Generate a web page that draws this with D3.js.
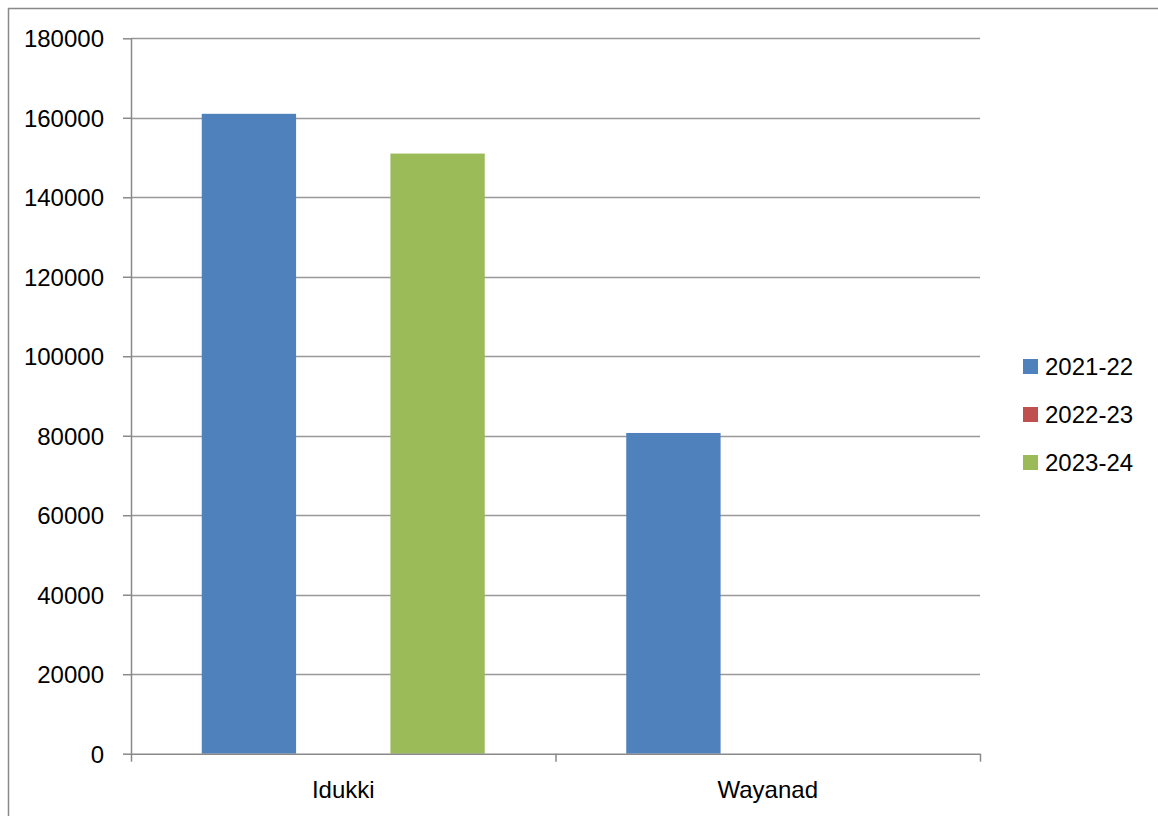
<!DOCTYPE html>
<html>
<head>
<meta charset="utf-8">
<script src="https://cdn.jsdelivr.net/npm/d3@7"></script>
<style>
html,body{margin:0;padding:0;background:#fff;}
svg{display:block;}
text{font-family:"Liberation Sans",Arial,sans-serif;fill:#000;}
</style>
</head>
<body>
<svg id="chart" width="1158" height="816"></svg>
<script>
const categories = ["Idukki", "Wayanad"];
const seriesNames = ["2021-22", "2022-23", "2023-24"];
const values2021 = [161000, 80700];
const values2022 = [0, 0];
const values2023 = [151000, 0];
const yTicks = [0, 20000, 40000, 60000, 80000, 100000, 120000, 140000, 160000, 180000];
const colors = ["#4F81BD", "#C0504D", "#9BBB59"];

const seriesValues = [values2021, values2022, values2023];
const svg = d3.select("#chart");

// outer chart border
svg.append("rect").attr("x", 8.5).attr("y", 8.5).attr("width", 1170).attr("height", 830)
  .attr("fill", "none").attr("stroke", "#898989").attr("stroke-width", 1.5);

const plot = {left: 131, right: 980, top: 38.3, bottom: 753.7};
const x = d3.scaleBand().domain(categories).range([plot.left, plot.right]).paddingInner(0).paddingOuter(0);
const y = d3.scaleLinear().domain([0, 180000]).range([plot.bottom, plot.top]);

// gridlines
svg.append("g").selectAll("line").data(yTicks.filter(d => d > 0)).join("line")
  .attr("x1", plot.left).attr("x2", plot.right)
  .attr("y1", d => Math.round(y(d)) + 0.5).attr("y2", d => Math.round(y(d)) + 0.5)
  .attr("stroke", "#999").attr("stroke-width", 1.5);

// bars
const inner = d3.scaleBand().domain(seriesNames).range([0, x.bandwidth()]).paddingOuter(0.75).paddingInner(0);
const groups = svg.append("g").selectAll("g").data(categories).join("g")
  .attr("transform", d => `translate(${x(d)},0)`);
groups.selectAll("rect").data((c, i) => seriesNames.map((s, j) => ({s, j, v: seriesValues[j][i]})))
  .join("rect")
  .attr("x", d => inner(d.s)).attr("width", inner.bandwidth())
  .attr("y", d => y(d.v)).attr("height", d => y(0) - y(d.v))
  .attr("fill", d => colors[d.j]);

// y axis
const yAxis = svg.append("g").attr("transform", `translate(${plot.left},0)`)
  .call(d3.axisLeft(y).tickValues(yTicks).tickSize(8).tickPadding(19).tickFormat(d3.format("d")));
yAxis.select(".domain").attr("stroke", "#898989").attr("stroke-width", 1.5).attr("d", `M0.5,${plot.top}V${plot.bottom}`);
yAxis.selectAll(".tick line").attr("stroke", "#898989").attr("stroke-width", 1.5);
yAxis.selectAll(".tick text").attr("font-size", 24).attr("font-family", "'Liberation Sans',Arial,sans-serif").attr("fill", "#000").attr("dy", "0.36em");

// x axis
const xAxis = svg.append("g").attr("transform", `translate(0,${plot.bottom})`)
  .call(d3.axisBottom(x).tickSize(0).tickPadding(27));
xAxis.select(".domain").attr("stroke", "#898989").attr("stroke-width", 1.5).attr("d", `M${plot.left},0.5H${plot.right}`);
xAxis.selectAll(".tick text").attr("font-size", 24).attr("font-family", "'Liberation Sans',Arial,sans-serif").attr("fill", "#000");
// category boundary tick marks
const boundaries = categories.map(c => x(c)).concat([x(categories[categories.length - 1]) + x.bandwidth()]);
xAxis.append("g").selectAll("line").data(boundaries).join("line")
  .attr("x1", d => d + 0.5).attr("x2", d => d + 0.5).attr("y1", 0).attr("y2", 8)
  .attr("stroke", "#898989").attr("stroke-width", 1.5);

// legend
const legend = svg.append("g").attr("transform", "translate(1023,366)");
const li = legend.selectAll("g").data(seriesNames).join("g")
  .attr("transform", (d, i) => `translate(0,${i * 48})`);
li.append("rect").attr("x", 0).attr("y", -7).attr("width", 15).attr("height", 15).attr("fill", (d, i) => colors[i]);
li.append("text").attr("x", 22).attr("y", 0).attr("dy", "0.36em").attr("font-size", 24).text(d => d);
</script>
</body>
</html>
